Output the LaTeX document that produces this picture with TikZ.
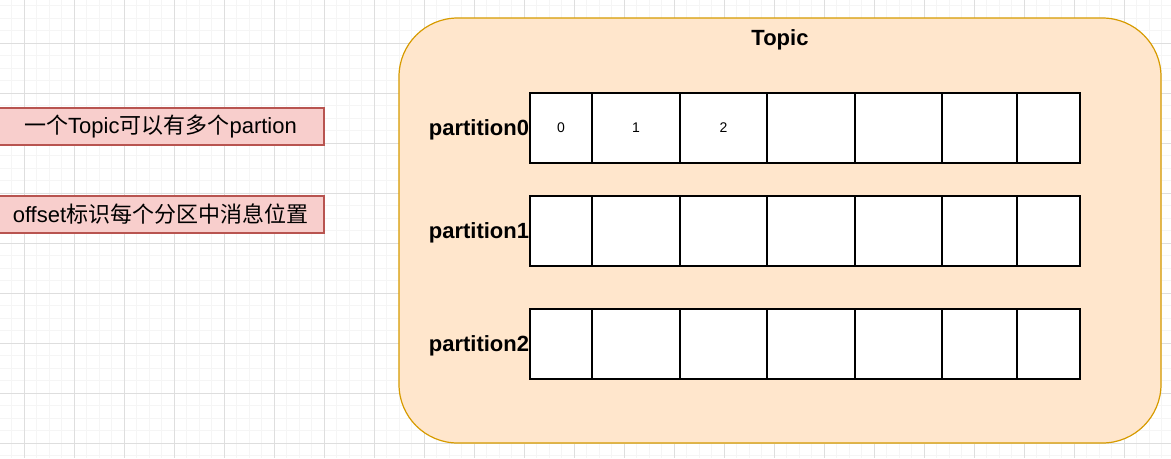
\documentclass[tikz,border=0pt]{standalone}
\usepackage{fontspec}
\setmainfont{Liberation Sans}
\newfontfamily\cjk{Noto Sans CJK SC}
\usepackage{xcolor}
\usepackage{tikz}
\definecolor{gridMinor}{RGB}{245,245,245}
\definecolor{gridMajor}{RGB}{222,222,222}
\definecolor{topicFill}{RGB}{255,230,204}
\definecolor{topicLine}{RGB}{215,155,0}
\definecolor{noteFill}{RGB}{248,206,204}
\definecolor{noteLine}{RGB}{184,84,80}
\newcommand{\lblsize}{\fontsize{16.5}{20}\selectfont}

\begin{document}
\begin{tikzpicture}[x=0.75pt, y=-0.75pt,
  cellbox/.style={draw=black, line width=1pt, fill=white, inner sep=0pt, minimum height=52.5pt},
  numtxt/.style={font=\fontsize{10.5}{12}\selectfont},
  partlbl/.style={font=\lblsize\bfseries, anchor=east, inner sep=0pt, yshift=-1.5pt},
  notebox/.style={draw=noteLine, fill=noteFill, line width=0.9pt, minimum width=245.25pt, minimum height=27.75pt, inner sep=0pt, font=\lblsize}]
\useasboundingbox (0,0) rectangle (1171,458);
\fill[white] (0,0) rectangle (1171,458);
\foreach \x in {-1,11.5,...,1171} \draw[gridMinor, line width=0.75pt] (\x,0) -- (\x,458);
\foreach \y in {5.5,18,...,458} \draw[gridMinor, line width=0.75pt] (0,\y) -- (1171,\y);
\foreach \x in {24,74,...,1171} \draw[gridMajor, line width=0.75pt] (\x,0) -- (\x,458);
\foreach \y in {43,93,...,458} \draw[gridMajor, line width=0.75pt] (0,\y) -- (1171,\y);
\node[draw=topicLine, fill=topicFill, line width=0.9pt, rounded corners=44pt, minimum width=571.5pt, minimum height=318.75pt] (topic) at (780,230.5) {};
\node[font=\lblsize\bfseries] (title) at (780,39.5) {Topic};
\foreach \r/\yt in {0/93, 1/196, 2/309}{
\foreach \xa/\xb [count=\i from 0] in {530/592, 592/680, 680/767, 767/855, 855/942, 942/1017, 1017/1080}{
\node[cellbox, minimum width={(\xb-\xa)*0.75pt}] (c\r\i) at ({(\xa+\xb)/2},{\yt+35}) {};
}
\node[partlbl] (p\r) at (c\r0.west) {partition\r};
}
\node[numtxt] (n0) at (c00) {0};
\node[numtxt] (n1) at (c01) {1};
\node[numtxt] (n2) at (c02) {2};
\node[notebox] (note1) at (160.5,126.5) {{\cjk 一个}Topic{\cjk 可以有多个}partion};
\node[notebox] (note2) at (160.5,214.5) {offset{\cjk 标识每个分区中消息位置}};
\end{tikzpicture}
\end{document}
